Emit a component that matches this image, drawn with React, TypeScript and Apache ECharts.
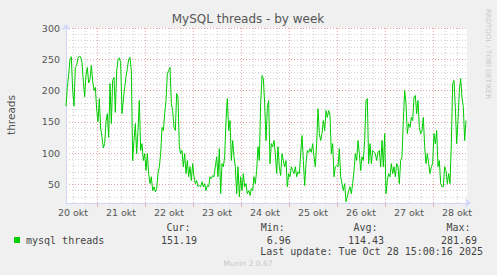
import { useEffect, useRef } from 'react';
import * as echarts from 'echarts';

const titleText = 'MySQL threads - by week';
const yAxisName = 'threads';
const watermark = 'RRDTOOL / TOBI OETIKER';
const footer = 'Munin 2.0.67';
const firstDay = 20;
const monthName = 'okt';
// hours after 20 okt 00:00
const startHour = 8.5;
const stepHours = 2 / 3;
const endHour = 209;
const yMin = 20;
const yMax = 300;

const threads = [
  175, 205, 225, 250, 254, 200, 175, 237, 240, 252,
  255, 254, 245, 215, 190, 225, 237, 212, 218, 240,
  215, 200, 205, 170, 150, 187, 140, 125, 108, 115,
  150, 163, 125, 211, 147, 216, 221, 165, 230, 250,
  252, 245, 163, 185, 205, 222, 235, 250, 253, 232,
  88, 120, 147, 99, 136, 184, 104, 115, 88, 99,
  72, 99, 67, 51, 62, 40, 46, 38, 43, 67,
  78, 99, 141, 136, 163, 184, 227, 232, 237, 179,
  168, 141, 136, 195, 189, 110, 99, 104, 78, 99,
  67, 88, 62, 78, 56, 83, 62, 51, 56, 46,
  48, 46, 54, 46, 51, 40, 48, 46, 62, 59,
  64, 62, 78, 94, 62, 107, 35, 83, 78, 94,
  152, 187, 136, 152, 88, 120, 94, 78, 35, 78,
  30, 62, 40, 67, 46, 51, 35, 40, 32, 43,
  40, 62, 51, 72, 110, 88, 179, 224, 219, 179,
  120, 173, 184, 83, 115, 110, 120, 99, 67, 110,
  78, 64, 99, 88, 78, 88, 46, 67, 62, 78,
  72, 67, 78, 62, 70, 67, 99, 128, 88, 48,
  83, 104, 101, 107, 101, 115, 94, 78, 115, 171,
  131, 120, 131, 152, 136, 168, 157, 168, 160, 99,
  115, 62, 78, 80, 78, 107, 62, 51, 40, 51,
  22, 30, 40, 46, 35, 51, 72, 99, 88, 120,
  99, 72, 94, 88, 120, 184, 187, 83, 115, 83,
  104, 101, 99, 88, 101, 104, 78, 120, 78, 131,
  35, 56, 67, 62, 83, 67, 78, 62, 83, 78,
  51, 88, 94, 152, 200, 179, 131, 147, 141, 157,
  152, 189, 192, 163, 184, 141, 131, 136, 157, 110,
  83, 99, 83, 67, 78, 83, 131, 115, 136, 78,
  88, 51, 46, 46, 78, 72, 51, 67, 51, 115,
  211, 216, 173, 115, 152, 200, 219, 189, 173, 120, 152,
];

const legendLabel = 'mysql threads';
const statLabels = ['Cur:', 'Min:', 'Avg:', 'Max:'];
const statValues = ['151.19', '6.96', '114.43', '281.69'];
const lastUpdate = 'Last update: Tue Oct 28 15:00:16 2025';

const lineColor = '#00cc00';
const axisColor = '#cfd6f8';
const minorGrid = '#d2d2d2';
const majorGrid = '#e8a4a4';
const fontColor = '#555555';
const sans = 'DejaVu Sans';
const mono = 'DejaVu Sans Mono';

export default function App() {
  const ref = useRef<HTMLDivElement>(null);
  useEffect(() => {
    if (!ref.current) return;
    const chart = echarts.init(ref.current, null, { renderer: 'svg' });
    const data = threads.map((v, i) => [startHour + i * stepHours, v]);
    const statX = [178.5, 272.7, 365.5, 458.5];
    const valX = [179, 278.7, 366, 459];
    const monoText = (text: string, x: number, y: number, align = 'center') => ({
      type: 'text',
      x,
      y,
      style: { text, fill: '#444', font: `10px "${mono}"`, textAlign: align, textVerticalAlign: 'middle' },
    });
    chart.setOption({
      animation: false,
      backgroundColor: '#f0f0f0',
      grid: [
        { left: 66, top: 28, width: 401, height: 175, show: true, backgroundColor: '#fff', borderWidth: 0 },
        { left: 73, top: 28, width: 394, height: 175 },
        { left: 97, top: 203, width: 370, height: 4 },
      ],
      xAxis: [
        {
          gridIndex: 0, type: 'value', min: startHour, max: endHour,
          axisLine: { show: true, lineStyle: { color: axisColor, width: 1 }, symbol: ['none', 'arrow'], symbolSize: [7, 6], symbolOffset: [0, 4] },
          axisTick: { show: false }, axisLabel: { show: false }, splitLine: { show: false },
        },
        {
          gridIndex: 1, type: 'value', min: 12, max: endHour, interval: 6,
          axisLine: { show: false }, axisTick: { show: false },
          axisLabel: {
            color: fontColor, fontSize: 9.5, fontFamily: sans, margin: 4, showMaxLabel: false,
            formatter: (v: number) => (v % 24 === 12 ? `${firstDay + Math.floor(v / 24)} ${monthName}` : ''),
          },
          splitLine: { show: true, showMaxLine: false, lineStyle: { color: [minorGrid, minorGrid, majorGrid, minorGrid], type: [1, 2], width: 1 } },
        },
        {
          gridIndex: 2, type: 'value', min: 24, max: endHour, interval: 24,
          axisLine: { show: false }, axisTick: { show: false }, axisLabel: { show: false },
          splitLine: { show: true, showMaxLine: false, lineStyle: { color: majorGrid, width: 1 } },
        },
      ],
      yAxis: [
        {
          gridIndex: 0, type: 'value', min: yMin, max: yMax, interval: 10,
          axisLine: { show: true, lineStyle: { color: axisColor, width: 1 }, symbol: ['none', 'arrow'], symbolSize: [7, 6], symbolOffset: [0, 4] },
          axisTick: { show: false },
          axisLabel: { color: fontColor, fontSize: 9.5, fontFamily: sans, margin: 6, formatter: (v: number) => (v % 50 === 0 ? String(v) : '') },
          splitLine: { show: true, lineStyle: { color: [minorGrid, minorGrid, minorGrid, majorGrid, minorGrid], type: [1, 2], width: 1 } },
        },
        { gridIndex: 1, type: 'value', show: false, min: 0, max: 1, splitLine: { show: false } },
        { gridIndex: 2, type: 'value', show: false, min: 0, max: 1, splitLine: { show: false } },
      ],
      series: [
        {
          name: legendLabel, type: 'line', xAxisIndex: 0, yAxisIndex: 0, data,
          symbol: 'none', showSymbol: false, lineStyle: { color: lineColor, width: 1 }, clip: true, z: 5,
        },
      ],
      graphic: [
        { type: 'text', x: 248, y: 19, style: { text: titleText, fill: fontColor, font: `12px "${sans}"`, textAlign: 'center', textVerticalAlign: 'middle' } },
        { type: 'text', x: 11, y: 115, rotation: Math.PI / 2, style: { text: yAxisName, fill: fontColor, font: `10.5px "${sans}"`, textAlign: 'center', textVerticalAlign: 'middle' } },
        { type: 'text', x: 488, y: 54, rotation: -Math.PI / 2, style: { text: watermark, fill: '#c8c8c8', font: `7px "${sans}"`, textAlign: 'center', textVerticalAlign: 'middle' } },
        { type: 'rect', shape: { x: 14, y: 237, width: 6, height: 6 }, style: { fill: lineColor } },
        monoText(legendLabel, 26, 240, 'left'),
        ...statLabels.map((t, i) => monoText(t, statX[i], 227.7)),
        ...statValues.map((t, i) => monoText(t, valX[i], 240)),
        monoText(lastUpdate, 483, 251.7, 'right'),
        { type: 'text', x: 248, y: 263.7, style: { text: footer, fill: '#c8c8c8', font: `7.5px "${sans}"`, textAlign: 'center', textVerticalAlign: 'middle' } },
      ],
    });
    return () => chart.dispose();
  }, []);
  return <div ref={ref} style={{ position: 'fixed', left: 0, top: 0, width: 497, height: 275 }} />;
}
